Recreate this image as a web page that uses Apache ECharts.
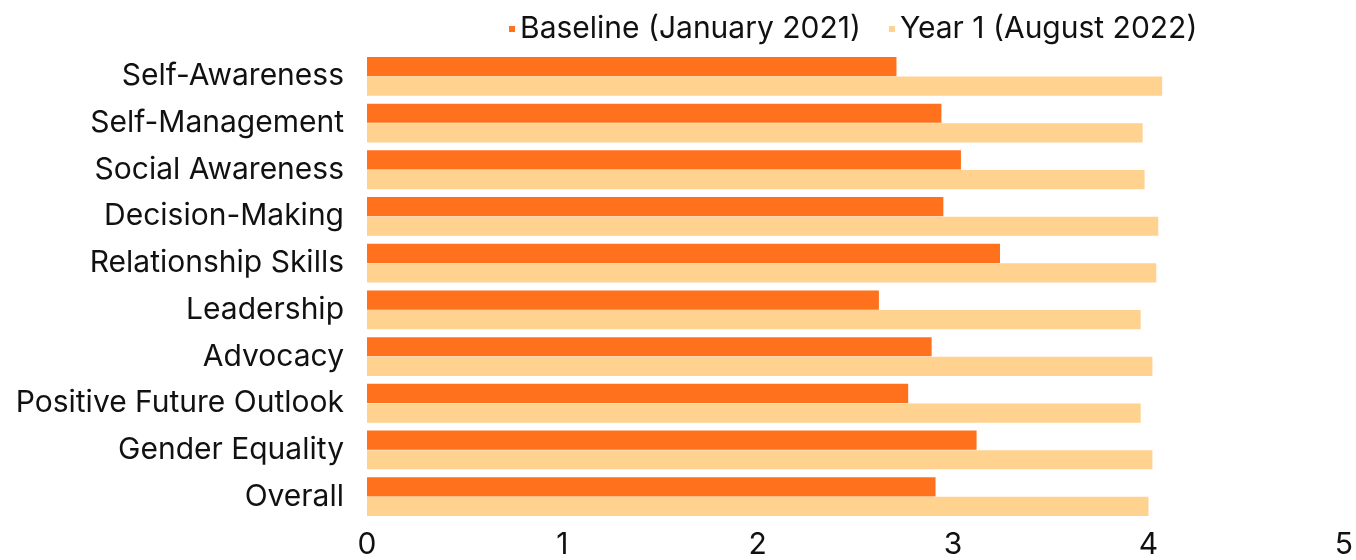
<!DOCTYPE html>
<html><head><meta charset="utf-8">
<script src="https://cdn.jsdelivr.net/npm/echarts@6/dist/echarts.min.js"></script>
<style>html,body{margin:0;padding:0;background:#fff}#c{width:1356px;height:560px}</style>
</head><body><div id="c"></div>
<script>
const categories = ["Self-Awareness","Self-Management","Social Awareness","Decision-Making","Relationship Skills","Leadership","Advocacy","Positive Future Outlook","Gender Equality","Overall"];
const baseline = [2.71, 2.94, 3.04, 2.95, 3.24, 2.62, 2.89, 2.77, 3.12, 2.91];
const year1 = [4.07, 3.97, 3.98, 4.05, 4.04, 3.96, 4.02, 3.96, 4.02, 4.00];
const seriesNames = ["Baseline (January 2021)", "Year 1 (August 2022)"];
const xTicks = [0,1,2,3,4,5];
const FONT = "Inter";
const chart = echarts.init(document.getElementById('c'));
chart.setOption({
  animation: false,
  textStyle: {fontFamily: FONT},
  legend: {
    top: 9, left: 504,
    itemWidth: 6, itemHeight: 6, itemGap: 28,
    icon: 'rect',
    textStyle: {fontSize: 30, color: '#111', fontFamily: FONT},
    data: seriesNames
  },
  grid: {left: 367, right: 10, top: 53, bottom: 36.5, containLabel: false},
  xAxis: {
    type: 'value', min: 0, max: 5, interval: 1,
    axisLine: {show: false}, axisTick: {show: false}, splitLine: {show: false},
    axisLabel: {fontSize: 30, color: '#111', margin: 10, fontFamily: FONT,
      formatter: v => xTicks.includes(v) ? String(v) : ''}
  },
  yAxis: {
    type: 'category', data: categories, inverse: true,
    axisLine: {show: false}, axisTick: {show: false},
    axisLabel: {fontSize: 30, color: '#111', margin: 23, fontFamily: FONT}
  },
  series: [
    {name: seriesNames[0], type: 'bar', data: baseline, barGap: '2%', barCategoryGap: '17%',
     itemStyle: {color: '#FF711C'}},
    {name: seriesNames[1], type: 'bar', data: year1, barGap: '2%', barCategoryGap: '17%',
     itemStyle: {color: '#FFD28F'}}
  ]
});
</script></body></html>
